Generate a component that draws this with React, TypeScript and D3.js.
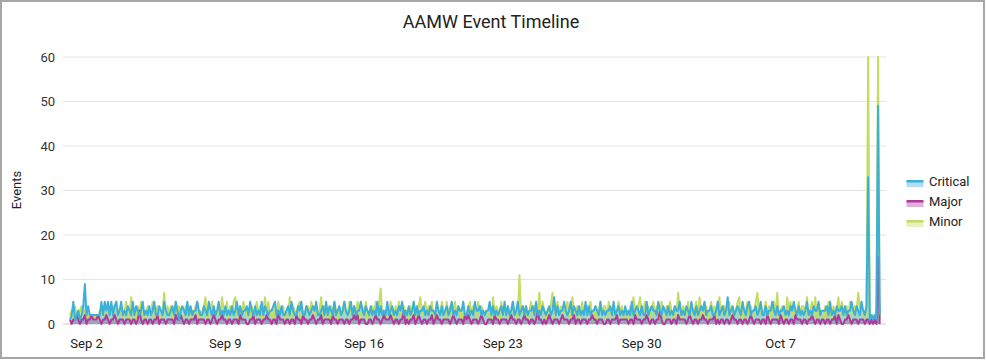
import React from "react";
import * as d3 from "d3";

// 2-hourly samples starting Sep 1 04:00 (UTC), one row = one day (12 samples)
const critical: number[] = [
  1,2,5,1,2,3,1,2,4,9,2,4,
  2,2,2,2,2,2,2,5,2,5,3,5,
  2,5,2,4,5,2,3,5,2,3,2,4,
  3,2,5,2,4,3,2,3,5,2,3,2,
  4,2,3,5,2,2,4,3,2,5,3,2,
  2,3,4,2,5,3,1,3,4,3,2,5,
  2,4,2,3,3,5,3,2,2,4,3,2,
  5,3,2,4,2,3,5,2,3,2,4,2,
  3,2,4,2,3,5,2,4,2,3,3,4,
  2,5,3,2,4,2,3,2,5,2,4,3,
  2,3,3,4,5,2,3,2,4,2,2,3,
  4,2,5,3,2,2,4,3,5,2,2,4,
  3,2,3,4,3,5,2,2,3,4,2,5,
  2,4,3,2,5,2,3,4,2,3,5,3,
  2,3,5,2,4,2,3,3,5,3,2,4,
  3,2,4,2,3,2,5,2,4,2,3,2,
  5,2,3,4,2,3,2,4,3,5,2,3,
  2,4,2,3,5,2,4,2,3,3,4,2,
  3,2,4,3,3,2,5,3,2,4,2,3,
  4,2,3,5,2,3,2,4,3,3,5,2,
  2,4,2,3,2,5,3,3,4,2,3,2,
  3,3,5,2,4,2,3,2,3,4,2,5,
  2,4,2,3,5,2,3,5,2,3,4,2,
  4,2,3,3,4,2,5,2,3,2,4,3,
  2,3,4,2,3,6,2,4,2,3,3,5,
  3,2,3,5,2,4,3,2,4,2,3,2,
  5,2,4,2,3,3,4,3,2,5,2,3,
  2,3,3,4,2,5,2,3,4,2,3,2,
  4,2,3,2,5,2,3,4,3,2,4,2,
  2,5,2,3,4,3,3,2,5,3,2,4,
  3,2,4,2,3,2,4,3,3,5,2,3,
  2,4,3,2,5,3,2,4,2,3,4,3,
  5,2,3,3,4,2,2,3,5,2,3,4,
  2,3,6,2,3,4,2,3,4,3,2,5,
  3,2,4,5,2,3,3,4,2,3,5,2,
  2,4,2,3,3,5,3,2,4,2,3,3,
  4,2,3,2,4,3,5,3,2,4,2,3,
  2,3,5,2,3,2,4,3,3,5,2,3,
  3,3,4,2,5,2,3,2,4,3,3,4,
  2,4,2,3,3,5,3,2,4,3,2,5,
  3,2,4,33,1,2,1,2,1,49,2,
];

const major: number[] = [
  1,0,1,1,2,1,0,1,1,2,0,1,
  1,2,1,1,1,2,1,0,1,1,2,1,
  0,1,1,2,1,0,1,1,1,0,1,1,
  1,0,1,1,0,1,3,1,0,1,1,0,
  1,1,0,1,1,2,0,1,1,1,0,1,
  1,1,1,0,2,1,1,2,1,0,1,1,
  0,1,1,1,2,0,1,1,1,1,0,1,
  1,0,1,2,1,0,1,1,2,1,1,0,
  1,1,0,1,1,1,0,2,1,1,1,0,
  0,1,1,2,0,1,1,1,0,1,1,2,
  1,1,0,1,1,0,3,1,1,1,0,1,
  1,0,1,1,0,2,1,1,0,2,1,1,
  0,1,1,2,1,0,1,1,2,0,1,1,
  1,1,0,2,1,1,0,1,1,1,0,1,
  1,0,1,1,2,1,2,0,1,1,1,0,
  0,1,1,0,1,2,1,1,0,1,2,1,
  1,1,2,1,0,1,1,0,1,1,3,0,
  1,0,1,1,2,0,1,2,1,0,1,1,
  0,1,1,2,0,1,2,1,1,0,1,1,
  1,1,0,1,2,1,0,1,1,1,0,2,
  1,2,1,0,1,1,1,0,1,2,1,0,
  0,1,1,1,0,2,1,1,0,1,1,1,
  1,0,1,2,1,1,0,1,1,0,1,2,
  1,1,0,1,1,0,1,3,1,1,0,1,
  0,1,2,1,0,1,1,1,0,1,2,1,
  1,1,0,1,1,2,0,1,1,0,1,1,
  1,0,1,1,2,1,1,0,1,1,1,0,
  0,1,1,0,1,1,1,2,0,1,1,1,
  1,1,0,1,1,0,2,1,1,1,0,1,
  1,2,1,0,1,1,0,1,1,3,1,0,
  0,1,1,1,0,1,1,0,2,1,1,1,
  1,0,1,2,1,0,1,1,0,1,1,2,
  1,1,0,1,1,1,2,0,1,0,1,1,
  0,1,1,0,1,2,1,1,0,1,1,0,
  1,1,0,1,2,1,0,1,1,1,0,1,
  1,0,2,1,0,1,1,1,1,0,2,1,
  0,1,1,0,1,1,0,2,1,1,1,0,
  1,1,0,1,1,2,1,0,1,1,0,1,
  1,0,1,1,0,1,1,2,0,2,1,0,
  0,1,1,2,1,0,1,1,1,0,1,1,
  1,0,1,1,0,1,0,1,0,15,0,
];

const minor: number[] = [
  2,3,1,4,2,1,3,4,2,3,1,2,
  2,2,1,2,2,1,3,2,4,2,3,4,
  3,2,4,1,5,3,2,4,1,3,5,2,
  1,6,2,3,1,4,2,5,3,1,2,4,
  3,2,5,1,3,4,2,1,3,7,2,4,
  2,4,1,3,5,2,4,3,1,2,4,3,
  4,1,3,2,4,5,1,3,2,4,6,1,
  2,3,5,1,3,2,4,1,6,3,2,5,
  1,4,2,5,6,3,1,4,2,5,3,2,
  3,1,4,2,3,5,2,4,1,3,6,2,
  5,2,3,1,4,2,5,3,2,4,1,3,
  2,6,1,4,3,2,4,5,1,3,2,4,
  4,2,5,3,1,4,2,3,6,2,4,1,
  3,1,4,2,5,3,1,4,2,3,5,2,
  2,5,3,1,4,2,5,3,1,4,2,5,
  1,3,2,4,2,5,3,4,8,2,3,1,
  4,2,5,3,1,4,2,5,3,1,4,2,
  3,1,4,2,5,3,1,4,6,2,3,5,
  2,4,3,5,1,2,4,3,2,5,3,1,
  5,2,4,1,3,5,2,4,3,1,4,2,
  1,3,5,2,4,3,1,5,2,4,3,2,
  3,2,4,1,6,2,4,3,1,5,2,4,
  2,4,1,3,5,2,3,1,11,2,4,3,
  4,1,3,5,2,4,1,3,7,2,5,3,
  1,3,2,4,7,1,3,5,2,4,1,3,
  3,5,2,1,6,3,2,4,1,3,5,2,
  2,4,3,5,1,2,4,1,3,5,2,4,
  4,1,5,2,3,4,1,3,5,2,4,1,
  2,3,1,4,2,6,3,1,4,6,2,3,
  5,2,4,1,3,5,2,4,1,3,5,2,
  1,4,2,5,3,1,4,2,7,3,1,4,
  3,2,5,1,4,2,3,5,1,6,2,3,
  2,4,1,3,5,2,4,1,3,6,2,4,
  4,2,3,5,1,4,2,3,5,6,1,3,
  1,3,5,2,4,1,3,5,7,2,4,2,
  3,5,2,4,1,3,5,2,7,1,3,4,
  2,1,6,3,5,2,4,1,3,5,2,4,
  4,2,6,1,3,5,2,6,1,4,3,2,
  1,4,2,5,3,1,4,2,3,6,2,5,
  3,2,4,1,5,3,2,4,3,7,4,2,
  2,3,1,60,2,1,2,1,2,60,1,
];

const seriesNames = ["Critical", "Major", "Minor"];
const lineColors = ["#3cb0d8", "#b0399e", "#c3dc62"];
const yTicks = [0, 10, 20, 30, 40, 50, 60];
const xTickDates = ["2019-09-02", "2019-09-09", "2019-09-16", "2019-09-23", "2019-09-30", "2019-10-07"];
const xTickLabels = ["Sep 2", "Sep 9", "Sep 16", "Sep 23", "Sep 30", "Oct 7"];

const START = Date.UTC(2019, 8, 1, 4);
const STEP = 2 * 3600 * 1000;

const FONT = "Roboto, 'Noto Sans', Arial, sans-serif";

export default function App() {
  const W = 986;
  const H = 360;
  const x = d3
    .scaleUtc()
    .domain([new Date(Date.UTC(2019, 8, 1)), new Date(Date.UTC(2019, 9, 12))])
    .range([66.7, 879.7]);
  const y = d3.scaleLinear().domain([0, 60]).range([324, 57]);

  const data = [critical, major, minor];
  const drawOrder = [2, 1, 0];

  const area = d3
    .area<number>()
    .x((_, i) => x(new Date(START + i * STEP)))
    .y0(y(0))
    .y1((d) => y(d));
  const line = d3
    .line<number>()
    .x((_, i) => x(new Date(START + i * STEP)))
    .y((d) => y(d));

  return (
    <svg
      width={W}
      height={H}
      style={{ position: "absolute", left: 0, top: 0, display: "block", fontFamily: FONT }}
    >
      <rect x={0} y={0} width={W} height={H} fill="#fff" />
      <rect x={1} y={1} width={983} height={357} fill="none" stroke="#a6a6a6" strokeWidth={2} />
      <text x={491} y={28} textAnchor="middle" fontSize={18} fill="#222">
        AAMW Event Timeline
      </text>
      {yTicks.map((t) => (
        <g key={t}>
          <line x1={63} x2={886} y1={y(t)} y2={y(t)} stroke={t === 0 ? "#cccccc" : "#e3e3e3"} strokeWidth={1} />
          <text x={55} y={y(t)} dy="0.35em" textAnchor="end" fontSize={13} fill="#333">
            {t}
          </text>
        </g>
      ))}
      <text
        transform={`translate(16,190) rotate(-90)`}
        textAnchor="middle"
        dy="0.35em"
        fontSize={13}
        fill="#222"
      >
        Events
      </text>
      {xTickDates.map((d, i) => (
        <text
          key={d}
          x={x(new Date(d + "T00:00:00Z"))}
          y={348}
          textAnchor="middle"
          fontSize={13}
          fill="#222"
        >
          {xTickLabels[i]}
        </text>
      ))}
      <g>
        {drawOrder.map((s) => (
          <path key={"a" + s} d={area(data[s]) || ""} fill={lineColors[s]} fillOpacity={0.4} stroke="none" />
        ))}
        {drawOrder.map((s) => (
          <path
            key={"l" + s}
            d={line(data[s]) || ""}
            fill="none"
            stroke={lineColors[s]}
            strokeWidth={2}
            strokeLinejoin="round"
          />
        ))}
      </g>
      {seriesNames.map((n, i) => {
        const ly = 180 + i * 20;
        return (
          <g key={n}>
            <rect x={906.5} y={ly + 2} width={17} height={5} fill={lineColors[i]} fillOpacity={0.4} />
            <rect x={906.5} y={ly} width={17} height={2.5} fill={lineColors[i]} />
            <text x={929} y={ly + 1.5} dy="0.35em" fontSize={13} fill="#222">
              {n}
            </text>
          </g>
        );
      })}
    </svg>
  );
}
